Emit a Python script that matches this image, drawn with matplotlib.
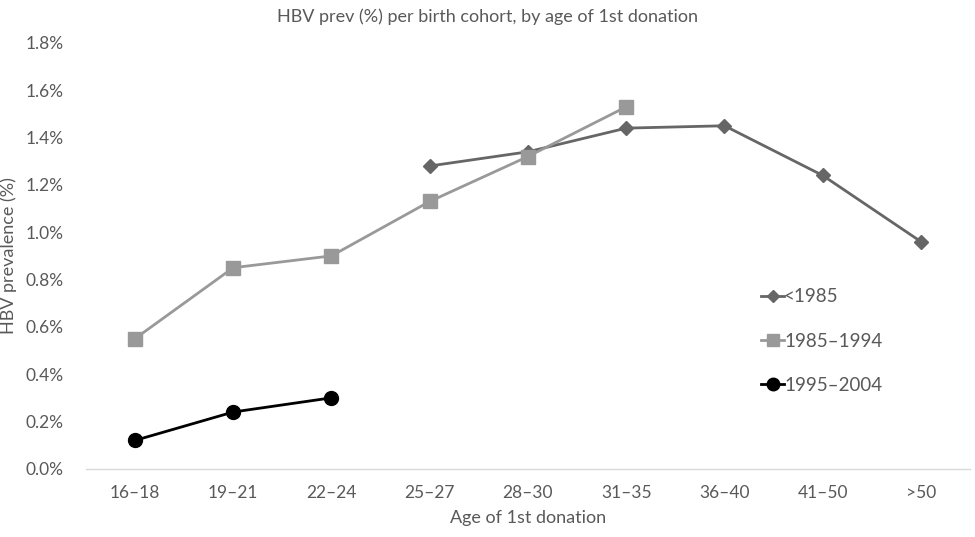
import matplotlib
matplotlib.use("Agg")
import matplotlib.pyplot as plt
import numpy as np

plt.rcParams['font.family'] = ['Lato', 'DejaVu Sans']

age_groups = ["16\u201318", "19\u201321", "22\u201324", "25\u201327", "28\u201330",
              "31\u201335", "36\u201340", "41\u201350", ">50"]

# prevalence (%) per birth cohort, NaN where no data
prev_pre1985 = [np.nan, np.nan, np.nan, 1.28, 1.34, 1.44, 1.45, 1.24, 0.96]
prev_1985_1994 = [0.55, 0.85, 0.90, 1.13, 1.32, 1.53, np.nan, np.nan, np.nan]
prev_1995_2004 = [0.12, 0.24, 0.30, np.nan, np.nan, np.nan, np.nan, np.nan, np.nan]

text_col = '#595959'

fig = plt.figure(figsize=(9.75, 5.37), dpi=100)
ax = fig.add_axes([0.088, 0.127, 0.907, 0.793])

x = np.arange(len(age_groups))
ax.plot(x, prev_pre1985, color='#666666', marker='D', markersize=7, linewidth=2,
        label='<1985')
ax.plot(x, prev_1985_1994, color='#999999', marker='s', markersize=10, linewidth=2,
        label='1985\u20131994')
ax.plot(x, prev_1995_2004, color='#000000', marker='o', markersize=10, linewidth=2,
        label='1995\u20132004')

ax.set_xlim(-0.5, len(age_groups) - 0.5)
ax.set_ylim(0, 1.8)
ax.set_yticks(np.arange(0, 1.81, 0.2))
ax.set_yticklabels([f"{v:.1f}%" for v in np.arange(0, 1.81, 0.2)])
ax.set_xticks(x)
ax.set_xticklabels(age_groups)

for s in ['top', 'right', 'left']:
    ax.spines[s].set_visible(False)
ax.spines['bottom'].set_color('#d9d9d9')
ax.spines['bottom'].set_linewidth(1)
ax.tick_params(length=0, labelsize=12.5, colors=text_col)
ax.tick_params(axis='x', pad=12)
ax.tick_params(axis='y', pad=16)

ax.set_xlabel('Age of 1st donation', fontsize=13, color=text_col, labelpad=6)
ax.set_ylabel('HBV prevalence (%)', fontsize=13, color=text_col, labelpad=6)
fig.suptitle('HBV prev (%) per birth cohort, by age of 1st donation', fontsize=13,
             color=text_col, y=0.985)

ax.legend(loc='center left', bbox_to_anchor=(0.745, 0.30), frameon=False,
          fontsize=13.5, labelcolor=text_col, handlelength=1.2, handletextpad=0.0,
          labelspacing=1.45, markerscale=0.9)

plt.savefig('out.png', dpi=100)
